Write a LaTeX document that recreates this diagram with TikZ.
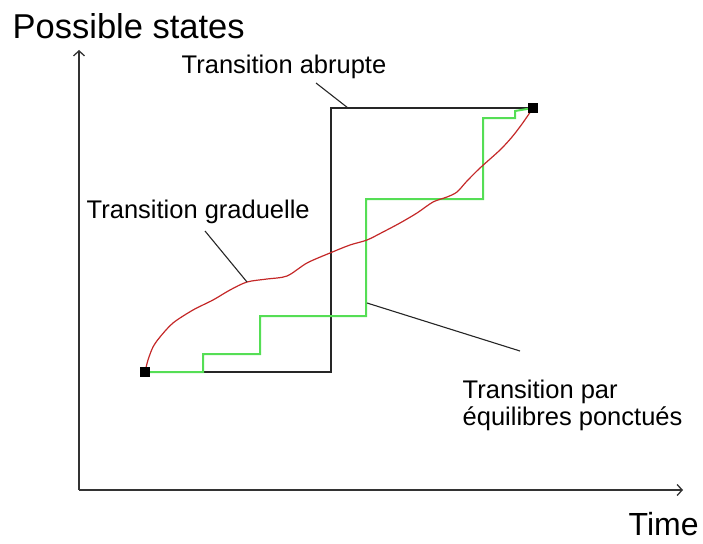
\documentclass[tikz,border=0pt]{standalone}
\usepackage{fontspec}
\setmainfont{Liberation Sans}
\usetikzlibrary{arrows.meta}
\definecolor{stepgreen}{RGB}{85,222,85}
\definecolor{gradred}{RGB}{196,40,40}

\begin{document}
\begin{tikzpicture}[x=1pt, y=-1pt, line width=1.4pt,
  every node/.style={inner sep=0pt},
  endpt/.style={fill=black, minimum size=10pt},
  lbl/.style={anchor=base west, font=\fontsize{25.5}{27}\selectfont},
  axislbl/.style={anchor=base west, font=\fontsize{34.5}{40}\selectfont}]
  \useasboundingbox (0,0) rectangle (703,543);

  % Axes
  \coordinate (O) at (79,490);
  \coordinate (Ytop) at (79,50);
  \coordinate (Xend) at (683,490);
  \draw[-{Straight Barb[length=5pt,width=11pt]}, black!80, line width=1.3pt] (O) -- (Ytop);
  \draw[-{Straight Barb[length=5pt,width=11pt]}, black!80, line width=1.3pt] (O) -- (Xend);
  \node[axislbl] (states) at (12,38) {Possible states};
  \node[axislbl, font=\fontsize{32}{36}\selectfont] (time) at (628,535) {Time};

  % Start and end states
  \coordinate (S) at (145,372);
  \coordinate (E) at (533,108);

  % Abrupt transition
  \coordinate (A1) at (331,372);
  \coordinate (A2) at (331,108);
  \draw[black!85] (S) -- (A1) -- (A2) -- (E);

  % Punctuated equilibria
  \draw[stepgreen, line width=2pt] (S) -- (203,372) -- (203,354) -- (260,354) -- (260,316)
    -- (366,316) -- (366,199) -- (483,199) -- (483,118) -- (515,118) -- (515,111) -- (E);

  % Gradual transition
  \draw[gradred, line width=1.2pt] plot[smooth, tension=0.5] coordinates {
    (S) (148,360) (153,347) (160,337) (173,323) (193,310) (213,300) (230,290)
    (247,282) (267,279) (287,276) (307,263) (330,253) (350,245) (367,240)
    (383,232) (400,223) (417,213) (433,202) (447,197) (457,192) (467,181)
    (480,168) (500,150) (512,137) (522,124) (E)};

  \node[endpt] (Sbox) at (S) {};
  \node[endpt] (Ebox) at (E) {};

  % Labels
  \node[lbl] (abrupt) at (181,73) {Transition abrupte};
  \node[lbl] (gradual) at (86,218) {Transition graduelle};
  \node[lbl, align=left] (punct) at (462,425) {Transition par\\équilibres ponctués};

  \coordinate (la) at (316,83);
  \coordinate (lb) at (205,231);
  \coordinate (lc) at (367,303);
  \coordinate (ta) at (348,108);
  \coordinate (tb) at (247,282);
  \coordinate (tc) at (520,351);
  \draw[black!85, line width=1.1pt] (la) -- (ta);
  \draw[black!85, line width=1.1pt] (lb) -- (tb);
  \draw[black!85, line width=1.1pt] (lc) -- (tc);
\end{tikzpicture}
\end{document}
